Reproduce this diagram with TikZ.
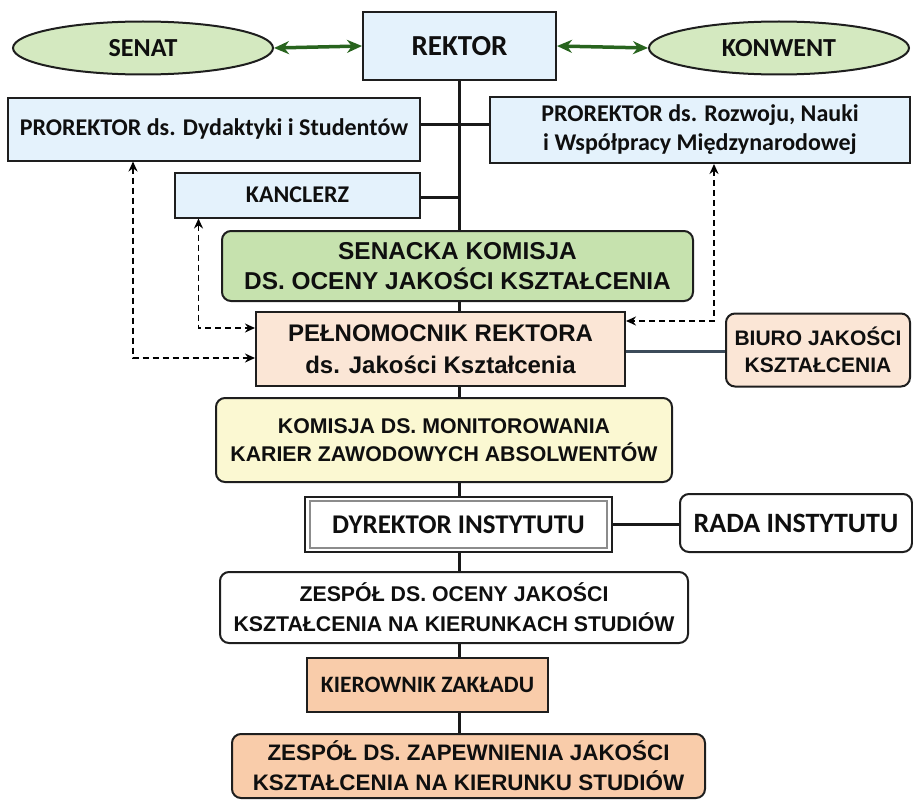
\documentclass[tikz,border=0pt]{standalone}
\usepackage{fontspec}
\newfontfamily\calfont{Carlito}
\newfontfamily\arfont{Liberation Sans}
\usetikzlibrary{shapes.geometric,arrows.meta,backgrounds}

\definecolor{boxline}{RGB}{30,30,30}
\definecolor{txtgray}{RGB}{15,15,15}
\definecolor{lightblue}{RGB}{228,242,252}
\definecolor{ovalgreen}{RGB}{212,233,192}
\definecolor{komgreen}{RGB}{198,226,174}
\definecolor{beige}{RGB}{251,230,214}
\definecolor{paleyellow}{RGB}{251,248,210}
\definecolor{salmon}{RGB}{249,204,170}
\definecolor{arrgreen}{RGB}{40,100,30}
\definecolor{slate}{RGB}{60,75,90}

\newcommand\cfont[2]{\calfont\bfseries\fontsize{#1}{#2}\selectfont}
\newcommand\afont[2]{\arfont\bfseries\fontsize{#1}{#2}\selectfont}

\begin{document}
\begin{tikzpicture}[x=1pt,y=-1pt,
    box/.style={draw=boxline, line width=2pt, inner sep=0pt, align=center, text=txtgray},
    rbox/.style={box, rounded corners=9pt},
    oval/.style={box, ellipse, fill=ovalgreen, minimum width=260pt, minimum height=53pt},
    trunk/.style={line width=3pt, black!90},
    greenarr/.style={line width=3.5pt, arrgreen, arrows={Stealth[length=15pt,width=13pt]-Stealth[length=15pt,width=13pt]}},
    dasharr/.style={line width=1.8pt, dash pattern=on 6pt off 4pt, arrows={Stealth[length=10pt,width=9pt]-Stealth[length=10pt,width=9pt]}}]

    \useasboundingbox (0,0) rectangle (913,800);

    % Top: senat, rektor, konwent
    \node[oval, font=\cfont{26}{30}] (senat) at (143,48) {SENAT};
    \node[box, fill=lightblue, minimum width=193pt, minimum height=68pt, font=\cfont{29}{33}] (rektor) at (459.5,46) {REKTOR};
    \node[oval, font=\cfont{26}{30}] (konwent) at (779,48) {KONWENT};

    % Prorektorzy and kanclerz
    \node[box, fill=lightblue, minimum width=412pt, minimum height=63pt, font=\cfont{24}{29}] (prodyd) at (214,129) {PROREKTOR ds. Dydaktyki i Studentów};
    \node[box, fill=lightblue, minimum width=420pt, minimum height=66pt, font=\cfont{24}{29}] (prorozw) at (700,130) {PROREKTOR ds. Rozwoju, Nauki\\i Współpracy Międzynarodowej};
    \node[box, fill=lightblue, minimum width=245pt, minimum height=45pt, font=\cfont{24}{29}] (kanclerz) at (297.5,195) {KANCLERZ};

    % Quality units
    \node[rbox, fill=komgreen, minimum width=471pt, minimum height=70pt, font=\afont{24.4}{30}] (senacka) at (457.5,266) {SENACKA KOMISJA\\DS. OCENY JAKOŚCI KSZTAŁCENIA};
    \node[box, fill=beige, minimum width=369pt, minimum height=74pt, font=\afont{24}{32}] (pelnom) at (440.5,349) {PEŁNOMOCNIK REKTORA\\ds. Jakości Kształcenia};
    \node[rbox, fill=beige, minimum width=184pt, minimum height=73pt, font=\afont{21}{27}] (biuro) at (818,350) {BIURO JAKOŚCI\\KSZTAŁCENIA};
    \node[rbox, fill=paleyellow, minimum width=456pt, minimum height=84pt, font=\afont{21.3}{28}] (komisja) at (444,440) {KOMISJA DS. MONITOROWANIA\\KARIER ZAWODOWYCH ABSOLWENTÓW};

    % Institute level
    \node[box, fill=white, minimum width=307pt, minimum height=55pt, font=\cfont{27}{31}] (dyrektor) at (458.5,524.5) {DYREKTOR INSTYTUTU};
    \draw[black!45, line width=1.5pt] ([shift={(6pt,-5pt)}]dyrektor.north west) rectangle ([shift={(-6pt,5pt)}]dyrektor.south east);
    \node[rbox, fill=white, minimum width=232pt, minimum height=58pt, font=\cfont{28}{32}] (rada) at (796,523) {RADA INSTYTUTU};
    \node[rbox, fill=white, minimum width=468pt, minimum height=71pt, font=\afont{21.3}{30}] (zespocena) at (454,607.5) {ZESPÓŁ DS. OCENY JAKOŚCI\\KSZTAŁCENIA NA KIERUNKACH STUDIÓW};

    % Department level
    \node[box, fill=salmon, minimum width=241pt, minimum height=54pt, font=\cfont{23.5}{27}] (kierownik) at (427.5,685) {KIEROWNIK ZAKŁADU};
    \node[rbox, fill=salmon, minimum width=473pt, minimum height=64pt, font=\afont{22.4}{30}] (zespzap) at (468.5,766) {ZESPÓŁ DS. ZAPEWNIENIA JAKOŚCI\\KSZTAŁCENIA NA KIERUNKU STUDIÓW};

    % Connectors
    \begin{scope}[on background layer]
        \draw[trunk] (rektor.south) -- (rektor.south |- zespzap.north);
        \draw[trunk] ([yshift=5pt]prodyd.east) -- ([yshift=5pt]prodyd.east -| prorozw.west);
        \draw[trunk] ([yshift=-2pt]kanclerz.east) -- ([yshift=-2pt]kanclerz.east -| rektor.south);
        \draw[trunk] (dyrektor.east) -- (dyrektor.east -| rada.west);
    \end{scope}
    \draw[line width=3pt, slate] ([yshift=-2pt]pelnom.east) -- ([yshift=-2pt]pelnom.east -| biuro.west);

    \draw[greenarr] (senat.east) -- (rektor.west);
    \draw[greenarr] (rektor.east) -- (konwent.west);

    \draw[dasharr] ([xshift=-81pt]prodyd.south) |- ([yshift=-9pt]pelnom.west);
    \draw[dasharr] ([xshift=-99pt]kanclerz.south) |- ([yshift=21pt]pelnom.west);
    \draw[dasharr] ([xshift=14pt]prorozw.south) |- ([yshift=28pt]pelnom.east);

\end{tikzpicture}
\end{document}
